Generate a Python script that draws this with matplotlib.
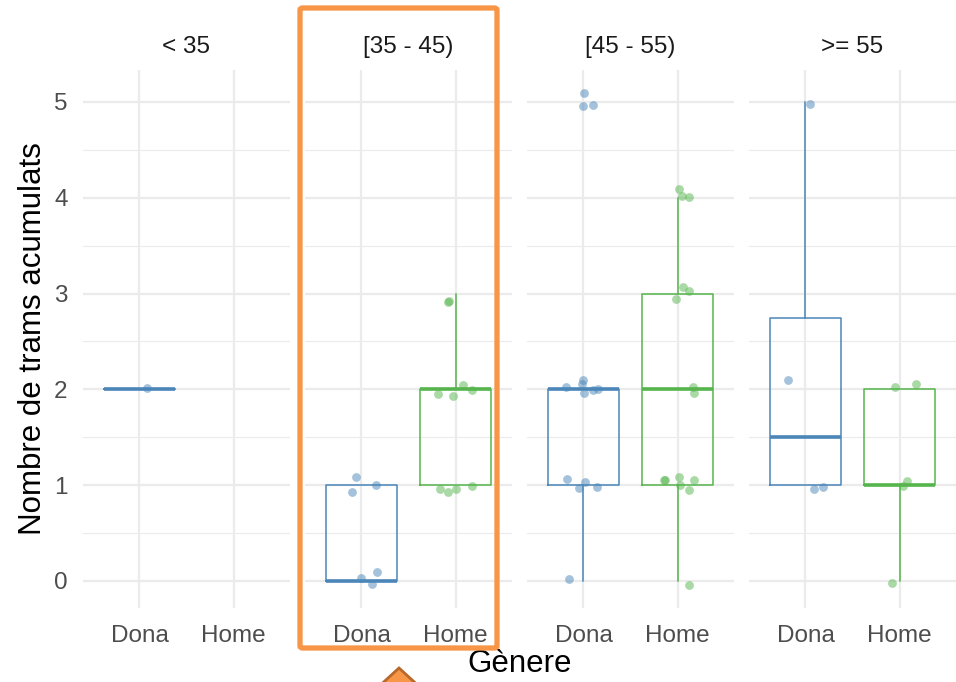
import matplotlib
matplotlib.use("Agg")
import matplotlib.pyplot as plt
from matplotlib.patches import FancyBboxPatch, Polygon
import numpy as np

plt.rcParams['font.family'] = ['Liberation Sans', 'DejaVu Sans']

# ---------------- data ----------------
groups = ['< 35', '[35 - 45)', '[45 - 55)', '>= 55']
genders = ['Dona', 'Home']
y_ticks = [0, 1, 2, 3, 4, 5]

# box statistics per group: (q1, median, q3, whisker low, whisker high); None = no data
box_dona = [(2, 2, 2, 2, 2), (0, 0, 1, 0, 1), (1, 2, 2, 0, 2), (1, 1.5, 2.75, 1, 5)]
box_home = [None, (1, 2, 2, 1, 3), (1, 2, 3, 0, 4), (1, 1, 2, 0, 2)]

# jittered points: horizontal offset and value
dona_dx = [
    [0.08],
    [-0.06, -0.10, 0.15, 0.00, 0.17, 0.11],
    [0.01, 0.00, 0.10, 0.00, -0.02, -0.19, 0.01, 0.10, 0.15, -0.17, 0.02, -0.05, 0.14, -0.15],
    [0.05, -0.19, 0.09, 0.19],
]
dona_y = [
    [2.01],
    [1.09, 0.93, 1.00, 0.035, 0.09, -0.03],
    [5.09, 4.96, 4.97, 2.10, 2.06, 2.03, 1.96, 1.99, 2.00, 1.06, 1.03, 0.97, 0.98, 0.02],
    [4.98, 2.10, 0.96, 0.98],
]
home_dx = [
    [],
    [-0.08, -0.07, 0.08, -0.19, -0.03, 0.18, -0.16, -0.085, 0.01, 0.18],
    [0.02, 0.05, 0.12, 0.06, 0.12, -0.02, 0.16, 0.18, -0.14, -0.13, 0.02, 0.18, 0.03, 0.12, 0.12],
    [-0.05, 0.17, 0.08, 0.04, -0.08],
]
home_y = [
    [],
    [2.91, 2.92, 2.05, 1.95, 1.93, 1.99, 0.965, 0.93, 0.96, 0.99],
    [4.09, 4.02, 4.01, 3.07, 3.03, 2.94, 2.02, 1.96, 1.05, 1.05, 1.09, 1.05, 1.00, 0.95, -0.04],
    [2.02, 2.06, 1.04, 0.99, -0.02],
]

# ---------------- style ----------------
W, H = 956, 682
col_dona = '#4A86B8'
col_home = '#55B54C'
grid_col = '#EBEBEB'

fig = plt.figure(figsize=(W / 100, H / 100), dpi=100)

panel_x = [83, 305, 527, 749]
panel_w = 207
top, bottom = 70, 608


def fr(x0, y0, w, h):
    return [x0 / W, 1 - (y0 + h) / H, w / W, h / H]


for i, g in enumerate(groups):
    ax = fig.add_axes(fr(panel_x[i], top, panel_w, bottom - top))
    ax.set_xlim(0.4, 2.6)
    ax.set_ylim(-0.282, 5.334)
    for s in ax.spines.values():
        s.set_visible(False)
    ax.set_yticks(y_ticks)
    ax.set_yticks(np.arange(0.5, 5.01, 1.0), minor=True)
    ax.tick_params(axis='both', which='both', length=0)
    ax.tick_params(axis='x', pad=12, labelsize=17.5, labelcolor='#4D4D4D')
    ax.tick_params(axis='y', pad=11, labelsize=17.5, labelcolor='#4D4D4D')
    if i > 0:
        ax.tick_params(axis='y', labelleft=False)
    ax.grid(True, which='major', color=grid_col, linewidth=1.6)
    ax.grid(True, which='minor', axis='y', color=grid_col, linewidth=0.8)
    ax.set_axisbelow(True)

    # points
    if dona_y[i]:
        ax.scatter(1 + np.array(dona_dx[i]), dona_y[i], s=40, color=col_dona,
                   alpha=0.5, linewidths=0, zorder=2)
    if home_y[i]:
        ax.scatter(2 + np.array(home_dx[i]), home_y[i], s=40, color=col_home,
                   alpha=0.5, linewidths=0, zorder=2)

    # boxes
    for pos, st, c in ((1, box_dona[i], col_dona), (2, box_home[i], col_home)):
        if st is None:
            continue
        q1, med, q3, lo, hi = st
        stats = [dict(q1=q1, med=med, q3=q3, whislo=lo, whishi=hi, fliers=[])]
        ax.bxp(stats, positions=[pos], widths=0.75, showcaps=False,
               showfliers=False, manage_ticks=False,
               boxprops=dict(color=c, linewidth=1.1),
               whiskerprops=dict(color=c, linewidth=1.1),
               medianprops=dict(color=c, linewidth=2.6, solid_capstyle='butt'),
               zorder=3)
    ax.set_xticks([1, 2])
    ax.set_xticklabels(genders)

    fig.text((panel_x[i] + panel_w / 2) / W, 1 - 47 / H, g, ha='center', va='center',
             fontsize=17.5, color='#1A1A1A')

fig.text(519.5 / W, 1 - 664 / H, 'Gènere', ha='center', va='center', fontsize=22.5)
fig.text(33 / W, 1 - 339 / H, 'Nombre de trams acumulats', ha='center', va='center',
         rotation=90, fontsize=22.5)

# highlight rectangle around second panel
rect = FancyBboxPatch((300 / W, 1 - 648 / H), 197 / W, 640 / H,
                      boxstyle='round,pad=0,rounding_size=0.003',
                      transform=fig.transFigure, fill=False,
                      edgecolor='#F79646', linewidth=3.8, zorder=10)
fig.add_artist(rect)

tri = Polygon([(399 / W, 1 - 668 / H), (375 / W, 1 - 690 / H), (423 / W, 1 - 690 / H)],
              closed=True, transform=fig.transFigure, facecolor='#F79646',
              edgecolor='#B8682A', linewidth=2.0, zorder=10)
fig.add_artist(tri)

fig.savefig('out.png', dpi=100)
